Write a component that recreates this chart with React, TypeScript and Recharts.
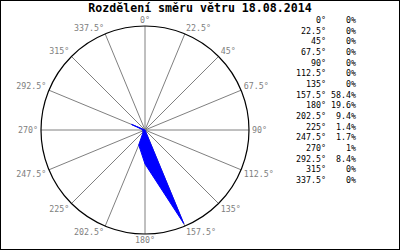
import { RadarChart, Radar, PolarGrid, PolarAngleAxis, PolarRadiusAxis } from 'recharts';

// wind direction distribution 18.08.2014
const DIRS = ['0°', '22.5°', '45°', '67.5°', '90°', '112.5°', '135°', '157.5°', '180°', '202.5°', '225°', '247.5°', '270°', '292.5°', '315°', '337.5°'];
const PCT = [0, 0, 0, 0, 0, 0, 0, 58.4, 19.6, 9.4, 1.4, 1.7, 1, 8.4, 0, 0];
const TITLE = 'Rozdělení směru větru 18.08.2014';

const data = DIRS.map((d, i) => ({ dir: d, v: PCT[i] }));

const CX = 145, CY = 130, R = 104;
const MONO = '"DejaVu Sans Mono", monospace';

function Tick(props: any) {
  const { x, y, textAnchor, payload } = props;
  let dy = 3;
  if (y < CY - 4) dy = 0;
  else if (y > CY + 4) dy = 6;
  return (
    <text x={x} y={y} dy={dy} textAnchor={textAnchor} fill="#808080" fontSize={8.3} fontFamily={MONO}>
      {payload.value}
    </text>
  );
}

export default function App() {
  return (
    <div style={{ position: 'relative', width: 400, height: 250, background: '#fff' }}>
      <style>{'body{margin:0}'}</style>
      <RadarChart width={400} height={250} data={data} cx={CX} cy={CY} outerRadius={R}
        margin={{ top: 0, right: 0, bottom: 0, left: 0 }} style={{ position: 'absolute', left: 0, top: 0 }}>
        <PolarGrid gridType="circle" polarRadius={[]} stroke="#808080" strokeWidth={1} />
        <PolarAngleAxis dataKey="dir" axisLineType="circle" axisLine={{ stroke: '#000', strokeWidth: 1.2 }}
          tickLine={false} tickSize={3} tick={<Tick />} />
        <PolarRadiusAxis domain={[0, 60]} tick={false} axisLine={false} />
        <Radar dataKey="v" stroke="#0000ff" fill="#0000ff" fillOpacity={1} strokeWidth={1} dot={false} isAnimationActive={false} />
      </RadarChart>
      <div style={{ position: 'absolute', left: 0, top: 2, width: 400, textAlign: 'center', fontFamily: MONO, fontWeight: 'bold', fontSize: 11.6, lineHeight: '13px', color: '#000' }}>
        {TITLE}
      </div>
      {DIRS.map((d, i) => (
        <div key={d} style={{ position: 'absolute', top: 15 + i * 10.67, left: 280, width: 76, height: 10, fontFamily: MONO, fontSize: 8.3, lineHeight: '10px', color: '#000' }}>
          <span style={{ position: 'absolute', right: 30, whiteSpace: 'pre' }}>{d}</span>
          <span style={{ position: 'absolute', right: 0, whiteSpace: 'pre' }}>{PCT[i] + '%'}</span>
        </div>
      ))}
      <div style={{ position: 'absolute', inset: 0, border: '1px solid #000', pointerEvents: 'none' }} />
    </div>
  );
}
